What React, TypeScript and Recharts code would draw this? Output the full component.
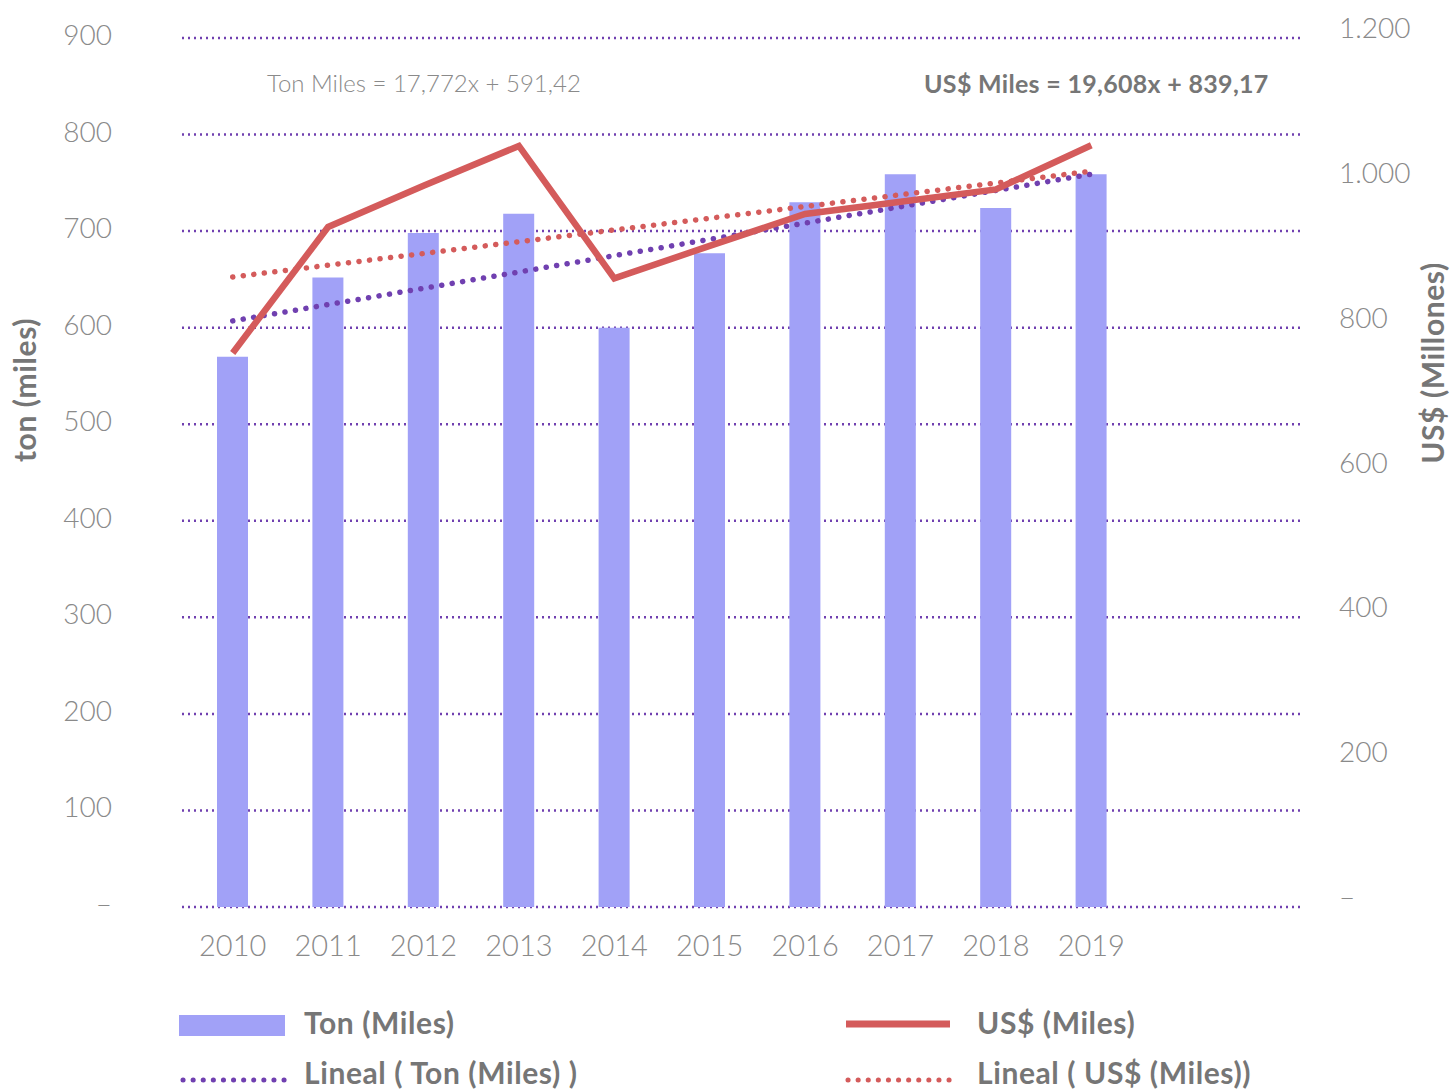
import { ComposedChart, Bar, Line, XAxis, YAxis, CartesianGrid } from "recharts";

// valores
const years = ["2010", "2011", "2012", "2013", "2014", "2015", "2016", "2017", "2018", "2019"];
const tonMiles = [570, 652, 698, 718, 600, 677, 730, 759, 724, 759];
const usdMiles = [765, 939, 996, 1051, 868, 913, 957, 974, 991, 1052];
// tendencias lineales: solo extremos, la línea recta une ambos
const tonTrend = [607, null, null, null, null, null, null, null, null, 759];
const usdTrend = [870, null, null, null, null, null, null, null, null, 1016];
const leftTicks = [0, 100, 200, 300, 400, 500, 600, 700, 800, 900];
const rightTicks = [0, 200, 400, 600, 800, 1000, 1200];

const BAR = "#a1a1f7";
const RED = "#d45b5b";
const PURPLE = "#7040b0";
const TICK = "#8a8a8a";
const LABEL = "#767676";
const FONT = "Lato, 'Open Sans', sans-serif";

const chartData = years.map((year, i) => ({
  year,
  ton: tonMiles[i],
  usd: usdMiles[i],
  tonTrend: tonTrend[i],
  usdTrend: usdTrend[i],
}));

const fmtRight = (v: number) => {
  if (v === 0) return "–";
  if (v >= 1000) return `${Math.floor(v / 1000)}.${String(v % 1000).padStart(3, "0")}`;
  return String(v);
};

const LeftTick = (props: any) => (
  <text x={112} y={props.y + 7} textAnchor="end" fill={TICK} fontSize={28} fontWeight={300} fontFamily={FONT}>
    {props.payload.value === 0 ? "–" : props.payload.value}
  </text>
);

const RightTick = (props: any) => (
  <text x={1339} y={props.y} textAnchor="start" fill={TICK} fontSize={28} fontWeight={300} fontFamily={FONT}>
    {fmtRight(props.payload.value)}
  </text>
);

const YearTick = (props: any) => (
  <text x={props.x} y={956} textAnchor="middle" fill={TICK} fontSize={29} fontWeight={300} fontFamily={FONT}>
    {props.payload.value}
  </text>
);

export default function App() {
  return (
    <div style={{ position: "absolute", left: 0, top: 0, width: 1450, height: 1089, fontFamily: FONT, background: "#fff" }}>
      <ComposedChart
        width={1450}
        height={1089}
        data={chartData}
        margin={{ top: 38, right: 0, bottom: 122, left: 0 }}
      >
        <CartesianGrid
          yAxisId="left"
          vertical={false}
          stroke={PURPLE}
          strokeWidth={2.5}
          strokeDasharray="2 4"
        />
        <XAxis
          dataKey="year"
          height={60}
          axisLine={false}
          tickLine={false}
          padding={{ left: 3, right: 161 }}
          tick={YearTick}
          interval={0}
        />
        <YAxis
          yAxisId="left"
          width={182}
          domain={[0, 900]}
          ticks={leftTicks}
          axisLine={false}
          tickLine={false}
          tick={LeftTick}
        />
        <YAxis
          yAxisId="right"
          orientation="right"
          width={150}
          domain={[0, 1200]}
          ticks={rightTicks}
          axisLine={false}
          tickLine={false}
          tick={RightTick}
        />
        <Bar yAxisId="left" dataKey="ton" fill={BAR} barSize={31} isAnimationActive={false} />
        <Line
          yAxisId="left"
          type="linear"
          dataKey="tonTrend"
          stroke={PURPLE}
          strokeWidth={5.5}
          strokeDasharray="0.1 10.5"
          strokeLinecap="round"
          dot={false}
          connectNulls
          isAnimationActive={false}
        />
        <Line
          yAxisId="right"
          type="linear"
          dataKey="usdTrend"
          stroke={RED}
          strokeWidth={5.5}
          strokeDasharray="0.1 10.5"
          strokeLinecap="round"
          dot={false}
          connectNulls
          isAnimationActive={false}
        />
        <Line
          yAxisId="right"
          type="linear"
          dataKey="usd"
          stroke={RED}
          strokeWidth={6.5}
          dot={false}
          isAnimationActive={false}
        />
      </ComposedChart>

      {/* títulos de ejes, ecuaciones y leyenda */}
      <svg
        width={1450}
        height={1089}
        style={{ position: "absolute", left: 0, top: 0, pointerEvents: "none" }}
        fontFamily={FONT}
      >
        <text x={36} y={390} transform="rotate(-90 36 390)" textAnchor="middle" fill={LABEL} fontSize={30} fontWeight={700} letterSpacing={0.6}>
          ton (miles)
        </text>
        <text x={1444} y={363} transform="rotate(-90 1444 363)" textAnchor="middle" fill={LABEL} fontSize={30} fontWeight={700} letterSpacing={0.6}>
          US$ (Millones)
        </text>

        <text x={267} y={92} fill={TICK} fontSize={24} fontWeight={300}>
          Ton Miles = 17,772x + 591,42
        </text>
        <text x={924} y={93} fill={LABEL} fontSize={25} fontWeight={700} letterSpacing={0.3}>
          US$ Miles = 19,608x + 839,17
        </text>

        <rect x={179} y={1015} width={106} height={21} fill={BAR} />
        <text x={304} y={1034} fill={LABEL} fontSize={30} fontWeight={700} letterSpacing={0.6}>Ton (Miles)</text>
        <line x1={846} y1={1024} x2={950} y2={1024} stroke={RED} strokeWidth={7} />
        <text x={977} y={1034} fill={LABEL} fontSize={30} fontWeight={700} letterSpacing={0.6}>US$ (Miles)</text>

        <line x1={183} y1={1080} x2={285} y2={1080} stroke={PURPLE} strokeWidth={5} strokeDasharray="0.1 10" strokeLinecap="round" />
        <text x={304} y={1084} fill={LABEL} fontSize={30} fontWeight={700} letterSpacing={0.6}>Lineal ( Ton (Miles) )</text>
        <line x1={848} y1={1080} x2={953} y2={1080} stroke={RED} strokeWidth={5} strokeDasharray="0.1 10" strokeLinecap="round" />
        <text x={977} y={1084} fill={LABEL} fontSize={30} fontWeight={700} letterSpacing={0.6}>Lineal ( US$ (Miles))</text>
      </svg>
    </div>
  );
}
